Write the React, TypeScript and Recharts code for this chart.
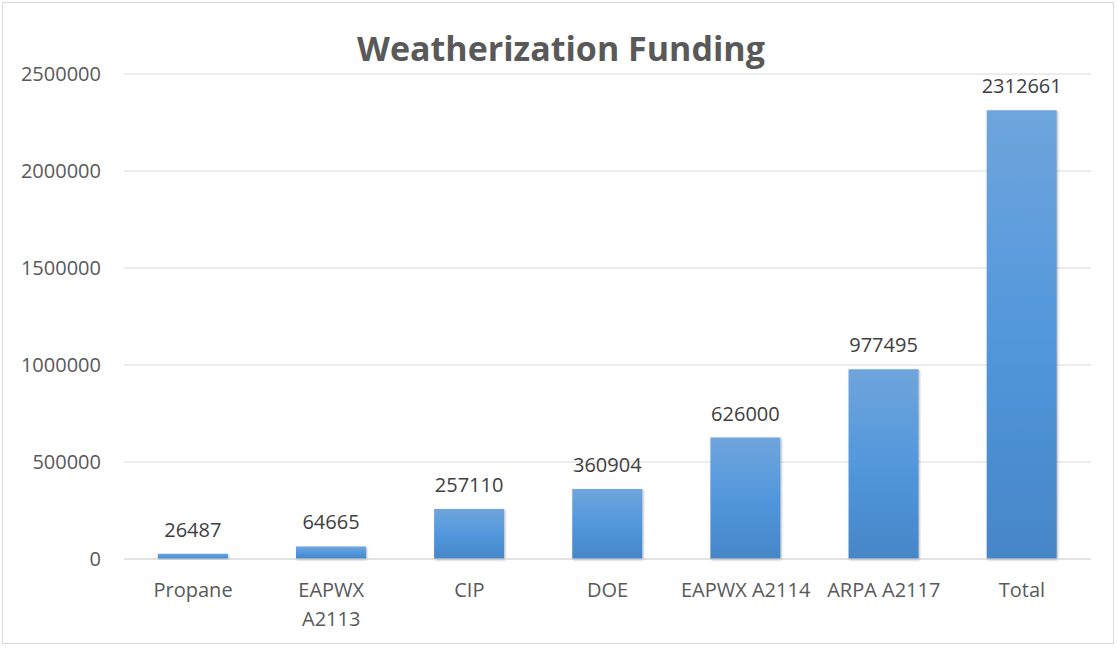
import React from "react";
import { BarChart, Bar, XAxis, YAxis, CartesianGrid, LabelList } from "recharts";

const categories = ["Propane", "EAPWX A2113", "CIP", "DOE", "EAPWX A2114", "ARPA A2117", "Total"];
const fundingValues = [26487, 64665, 257110, 360904, 626000, 977495, 2312661];
const yTicks = [0, 500000, 1000000, 1500000, 2000000, 2500000];
const tickLines: string[][] = [["Propane"], ["EAPWX", "A2113"], ["CIP"], ["DOE"], ["EAPWX A2114"], ["ARPA A2117"], ["Total"]];

const data = categories.map((name, i) => ({ name, value: fundingValues[i] }));

const FONT = "'Open Sans', 'DejaVu Sans', sans-serif";

const XTick = (props: any) => {
  const { x, y, payload } = props;
  const idx = categories.indexOf(payload.value);
  const lines = idx >= 0 ? tickLines[idx] : [String(payload.value)];
  return (
    <g transform={`translate(${x},${y})`}>
      {lines.map((l, i) => (
        <text key={i} x={0} y={0} dy={30 + i * 29} textAnchor="middle" fill="#595959" fontSize={20} fontFamily={FONT}>
          {l}
        </text>
      ))}
    </g>
  );
};

export default function App() {
  return (
    <div style={{ position: "absolute", left: 0, top: 0, width: 1118, height: 648, background: "#fff" }}>
      <div
        style={{
          position: "absolute",
          left: 2,
          top: 2,
          width: 1112,
          height: 642,
          border: "1.5px solid #d9d9d9",
          boxSizing: "border-box",
        }}
      />
      <div
        style={{
          position: "absolute",
          left: 0,
          top: 25,
          width: 1122,
          textAlign: "center",
          fontFamily: FONT,
          fontWeight: 700,
          fontSize: 34,
          color: "#595959",
          lineHeight: "46px",
        }}
      >
        Weatherization Funding
      </div>
      <div style={{ position: "absolute", left: 0, top: 0 }}>
        <BarChart width={1118} height={648} data={data} margin={{ top: 74, right: 27, bottom: 0, left: 0 }} barCategoryGap="24.5%">
          <defs>
            <linearGradient id="barGrad" x1="0" y1="0" x2="0" y2="1">
              <stop offset="0%" stopColor="#6fa5dc" />
              <stop offset="50%" stopColor="#5297dc" />
              <stop offset="100%" stopColor="#4586c8" />
            </linearGradient>
            <filter id="shadow" x="-10%" y="-10%" width="120%" height="120%">
              <feDropShadow dx="1" dy="1" stdDeviation="1.2" floodColor="#000" floodOpacity="0.3" />
            </filter>
          </defs>
          <CartesianGrid vertical={false} stroke="#d9d9d9" strokeWidth={1} />
          <XAxis
            dataKey="name"
            axisLine={{ stroke: "#d9d9d9", strokeWidth: 1 }}
            tickLine={false}
            interval={0}
            tick={<XTick />}
            height={89}
          />
          <YAxis
            domain={[0, 2500000]}
            ticks={yTicks}
            width={124}
            axisLine={false}
            tickLine={false}
            tickSize={6}
            tickMargin={17}
            tick={{ fill: "#595959", fontSize: 20, fontFamily: FONT }}
          />
          <Bar dataKey="value" fill="url(#barGrad)" isAnimationActive={false} style={{ filter: "url(#shadow)" }}>
            <LabelList dataKey="value" position="top" offset={17} fill="#404040" fontSize={20} fontFamily={FONT} />
          </Bar>
        </BarChart>
      </div>
    </div>
  );
}
